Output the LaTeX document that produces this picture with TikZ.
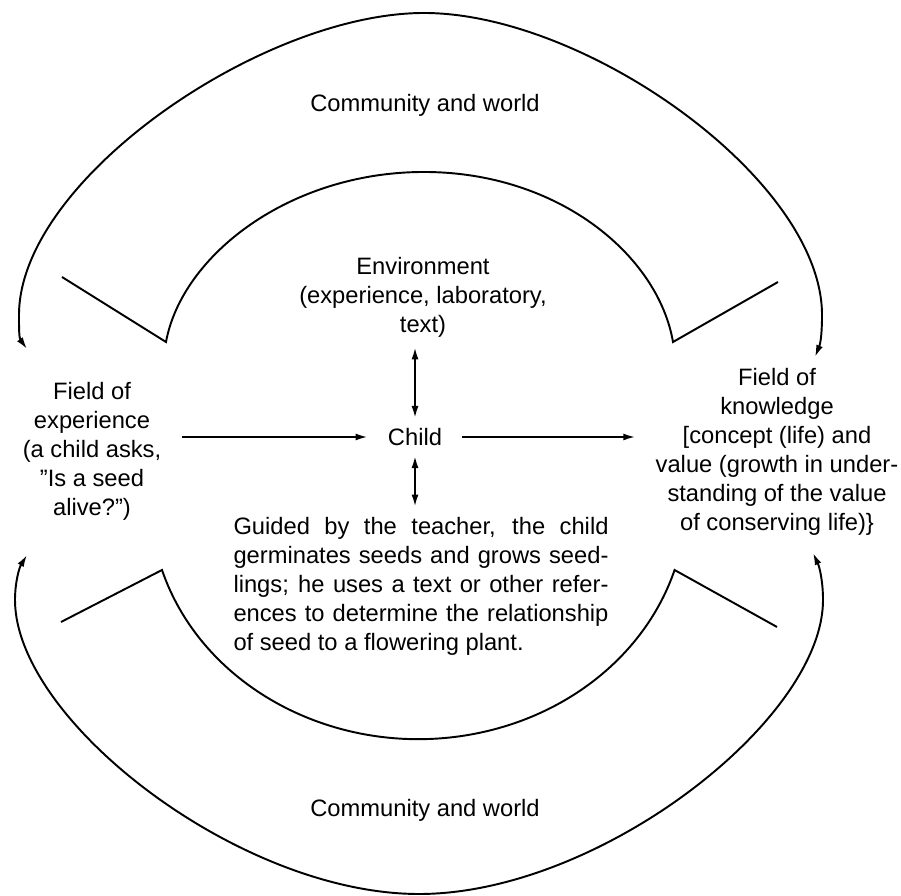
\documentclass[tikz,border=0pt]{standalone}
\usepackage{fontspec}
\setmainfont{Liberation Sans}
\usetikzlibrary{arrows.meta,positioning,calc}

\begin{document}
\begin{tikzpicture}[x=0.2mm, y=0.2mm, >={Latex[length=2.4mm,width=1.4mm]},
    every node/.style={font=\fontsize{13.5}{16.5}\selectfont},
    ring/.style={line width=1.1pt},
    field/.style={align=center, inner xsep=4mm, inner ysep=2mm}]
    \useasboundingbox (0,0) rectangle (901,895);

    % 外圈
    \draw[ring, <->] (27,546) .. controls (19,557) and (19,567) .. (19,580)
        .. controls (19,715) and (262,882) .. (424,882)
        .. controls (586,882) and (822,715) .. (822,580)
        .. controls (822,565) and (821,553) .. (815,538);
    \draw[ring, <->] (27,340) .. controls (19,327) and (15,312) .. (15,295)
        .. controls (15,175) and (239,1) .. (419,1)
        .. controls (599,1) and (823,175) .. (823,295)
        .. controls (823,312) and (820,327) .. (813,342);

    % 内圈
    \draw[ring] (62,618) -- (166,553)
        .. controls (182,640) and (290,723) .. (424,723)
        .. controls (558,723) and (658,640) .. (673,553) -- (778,613);
    \draw[ring] (61,273) -- (162,325)
        arc[start angle=197, end angle=343, x radius=53.6mm, y radius=47.8mm] -- (777,268);

    % 文字
    \node (worldtop) at (425,790) {Community and world};
    \node (worldbot) at (425,85) {Community and world};
    \node[field] (env) at (423,598) {Environment\\(experience, laboratory,\\text)};
    \node[field] (child) at (415,458) {Child};
    \node[field] (exp) at (92,444) {Field of\\experience\\(a child asks,\\''Is a seed\\alive?'')};
    \node[field] (know) at (777,443) {Field of\\knowledge\\{[}concept (life) and\\value (growth in under-\\standing of the value\\of conserving life)\}};
    \node[field, text width=75mm, align=justify] (guided) at (421,309)
        {Guided by the teacher, the child\linebreak germinates seeds and grows seed-\linebreak lings; he uses a text or other refer-\linebreak ences to determine the relationship\linebreak of seed to a flowering plant.};

    % 箭头
    \draw[ring, ->] (exp.east |- child) -- (child);
    \draw[ring, ->] (child) -- (child -| know.west);
    \draw[ring, <->] (child.north) -- (child.north |- env.south);
    \draw[ring, <->] (child.south) -- (child.south |- guided.north);
\end{tikzpicture}
\end{document}
